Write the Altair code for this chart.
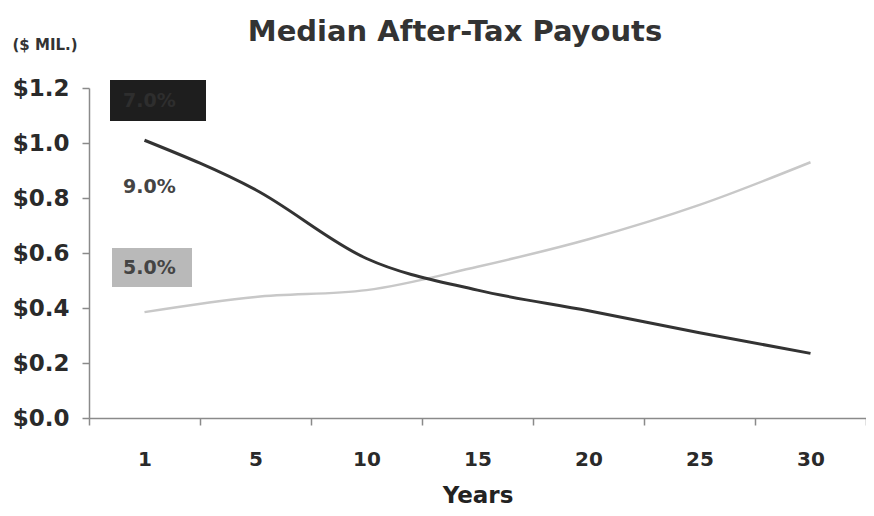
import altair as alt
import pandas as pd

years = ["1", "5", "10", "15", "20", "25", "30"]
dark_values = [1.01, 0.83, 0.58, 0.465, 0.39, 0.31, 0.235]
light_values = [0.385, 0.44, 0.465, 0.55, 0.65, 0.775, 0.93]
legend_labels = ["7.0%", "9.0%", "5.0%"]
y_ticks = [0.0, 0.2, 0.4, 0.6, 0.8, 1.0, 1.2]
chart_title = ["Median After-Tax Payouts"]

df = pd.DataFrame({
    "year": years * 2,
    "value": dark_values + light_values,
    "series": ["dark"] * len(years) + ["light"] * len(years),
})

FONT = "DejaVu Sans"

x_enc = alt.X(
    "year:O", sort=years,
    scale=alt.Scale(type="band", paddingInner=0, paddingOuter=0),
    axis=alt.Axis(title="Years", labelAngle=0, tickBand="extent", labelFontSize=20,
                  labelPadding=24, titleFontSize=23, titlePadding=15, titleColor="#222"),
)
y_enc = alt.Y(
    "value:Q",
    scale=alt.Scale(domain=[0, 1.2], nice=False),
    axis=alt.Axis(values=y_ticks, format="$.1f", labelFontSize=23, labelPadding=13,
                  title="($ MIL.)", titleAngle=0, titleX=-77, titleY=-39,
                  titleAlign="left", titleBaseline="alphabetic", titleFontSize=15,
                  titleColor="#333"),
)

base = alt.Chart(df)
dark_line = base.transform_filter(alt.datum.series == "dark").mark_line(
    color="#333333", strokeWidth=3, interpolate="monotone"
).encode(x=x_enc, y=y_enc)
light_line = base.transform_filter(alt.datum.series == "light").mark_line(
    color="#c8c8c8", strokeWidth=2.5, interpolate="monotone"
).encode(x=x_enc, y=y_enc)

one = pd.DataFrame({"label": legend_labels})

dark_box = alt.Chart(one).transform_filter(alt.datum.label == legend_labels[0]).mark_rect(
    color="#1e1e1e").encode(x=alt.value(21), x2=alt.value(117), y=alt.value(-8), y2=alt.value(33))
grey_box = alt.Chart(one).transform_filter(alt.datum.label == legend_labels[2]).mark_rect(
    color="#b9b9b9").encode(x=alt.value(23), x2=alt.value(103), y=alt.value(160), y2=alt.value(199))

dark_text = alt.Chart(one).transform_filter(alt.datum.label == legend_labels[0]).mark_text(
    font=FONT, fontWeight="bold", fontSize=19, color="#2e2e2e", align="left", baseline="middle"
).encode(text="label:N", x=alt.value(34), y=alt.value(13))
mid_text = alt.Chart(one).transform_filter(alt.datum.label == legend_labels[1]).mark_text(
    font=FONT, fontWeight="bold", fontSize=19, color="#444", align="left", baseline="middle"
).encode(text="label:N", x=alt.value(34), y=alt.value(99))
grey_text = alt.Chart(one).transform_filter(alt.datum.label == legend_labels[2]).mark_text(
    font=FONT, fontWeight="bold", fontSize=19, color="#444", align="left", baseline="middle"
).encode(text="label:N", x=alt.value(34), y=alt.value(180))

title_text = alt.Chart(pd.DataFrame({"t": chart_title})).mark_text(
    font=FONT, fontWeight="bold", fontSize=29, color="#333", align="center", baseline="alphabetic"
).encode(text="t:N", x=alt.value(366), y=alt.value(-47))

chart = alt.layer(
    dark_box, grey_box, dark_text, mid_text, grey_text, light_line, dark_line, title_text
).properties(
    width=777, height=330,
    autosize=alt.AutoSizeParams(type="none"),
    padding={"left": 81, "top": 80, "right": 0, "bottom": 90},
    background="white",
).configure_axis(
    labelFont=FONT, titleFont=FONT, labelFontWeight="bold", titleFontWeight="bold",
    labelColor="#2a2a2a", domainColor="#8a8a8a", domainWidth=1.5, tickColor="#8a8a8a",
    tickWidth=1.5, tickSize=7, grid=False,
).configure_view(stroke=None)

chart.save("out.html", embed_options={"renderer": "svg", "actions": False})
